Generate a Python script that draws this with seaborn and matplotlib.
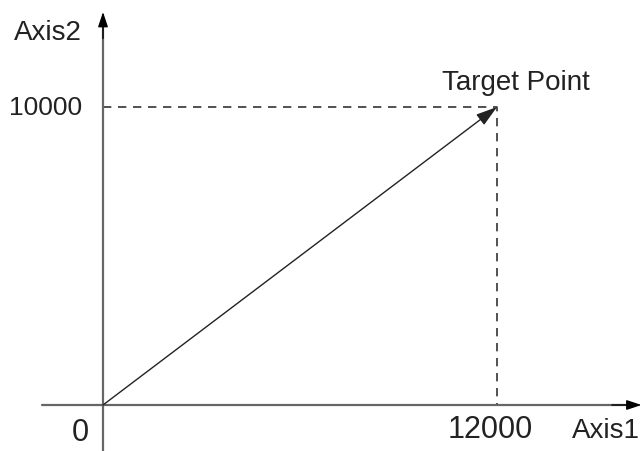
import matplotlib
matplotlib.use("Agg")
import matplotlib.pyplot as plt
import seaborn as sns
import pandas as pd

# target point of the move
target_x = 12000
target_y = 10000
axis_names = ["Axis1", "Axis2"]
tick_labels = ["0", "12000", "10000"]
point_label = "Target Point"

sns.set_style("white")
plt.rcParams['font.family'] = ['Liberation Sans', 'DejaVu Sans']

fig = plt.figure(figsize=(6.42, 4.52), dpi=100)
ax = fig.add_axes([0, 0, 1, 1])
ax.set_xlim(-3137, 16416)
ax.set_ylim(-1544, 13624)
ax.axis("off")

# dashed guide lines to the target
guides = pd.DataFrame({
    "x": [0, target_x, target_x],
    "y": [target_y, target_y, 0],
})
sns.lineplot(data=guides, x="x", y="y", sort=False, estimator=None, ax=ax,
             color="#333333", lw=1.2, linestyle=(0, (5, 4)))

# axes: gray line, black arrow head
ax.plot([-1858, 16000], [0, 0], color="#666666", lw=1.6)
ax.plot([0, 0], [-1544, 12800], color="#666666", lw=1.6)
head = dict(arrowstyle="-|>,head_length=0.9,head_width=0.3",
            color="black", lw=1.0, shrinkA=0, shrinkB=0)
ax.annotate("", xy=(16400, 0), xytext=(15500, 0), arrowprops=head)
ax.annotate("", xy=(0, 13188), xytext=(0, 12300), arrowprops=head)

# move vector from origin to target
ax.annotate("", xy=(target_x, target_y), xytext=(0, 0),
            arrowprops=dict(arrowstyle="-|>,head_length=1.3,head_width=0.4",
                            color="#222222", lw=1.0, shrinkA=0, shrinkB=0))

c = "#222222"
ax.text(-1675, 12517, axis_names[1], ha="center", va="center", fontsize=20, color=c)
ax.text(15320, -850, axis_names[0], ha="center", va="center", fontsize=20, color=c)
ax.text(-640, target_y, tick_labels[2], ha="right", va="center", fontsize=19, color=c)
ax.text(-700, -900, tick_labels[0], ha="center", va="center", fontsize=22, color=c)
ax.text(11800, -800, tick_labels[1], ha="center", va="center", fontsize=22, color=c)
ax.text(12580, 10840, point_label, ha="center", va="center", fontsize=20, color=c)

fig.savefig("out.png", dpi=100)
